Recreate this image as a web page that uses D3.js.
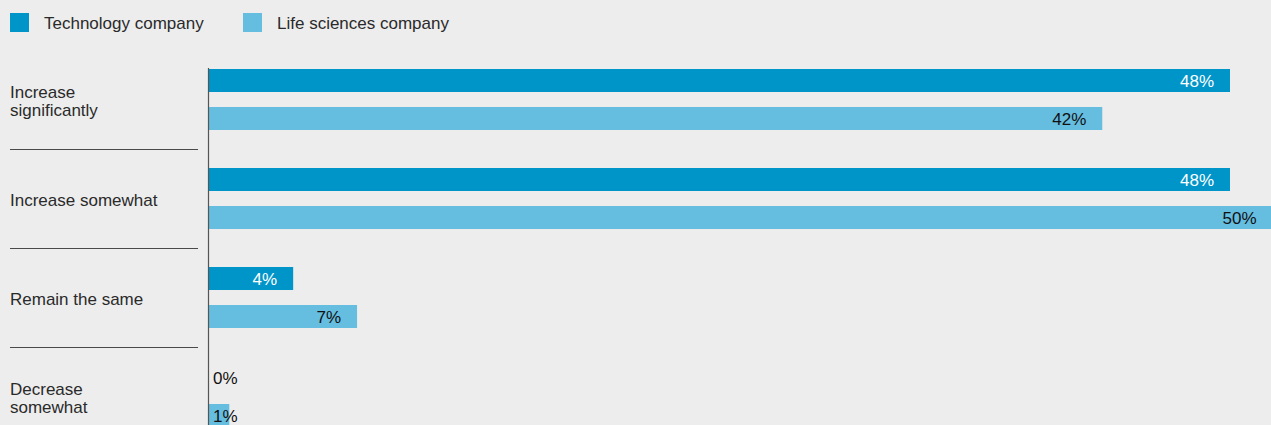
<!DOCTYPE html>
<html>
<head>
<meta charset="utf-8">
<script src="https://cdn.jsdelivr.net/npm/d3@7"></script>
<style>
  html, body { margin: 0; padding: 0; background: #ededed; }
  svg { display: block; font-family: "Liberation Sans", Arial, sans-serif; }
</style>
</head>
<body>
<svg id="chart" width="1271" height="425"></svg>
<script>
// Survey answers (categories) and the share for each respondent type
const categories = [
  ["Increase", "significantly"],
  ["Increase somewhat"],
  ["Remain the same"],
  ["Decrease", "somewhat"]
];
const seriesNames = ["Technology company", "Life sciences company"];
const techValues = [48, 48, 4, 0];
const lifeValues = [42, 50, 7, 1];
const seriesColors = ["#0095c9", "#65bde0"];
const labelColors = ["#ffffff", "#111111"];

const W = 1271, H = 425;
const svg = d3.select("#chart");

const catKeys = categories.map(c => c.join(" "));
const y = d3.scaleBand().domain(catKeys).range([50, 50 + 99 * catKeys.length]).padding(0);
const inner = d3.scaleBand().domain(seriesNames).range([19, 80]).paddingInner(15 / 38).paddingOuter(0);
const x = d3.scaleLinear().domain([0, 48]).range([208, 1230]);

const rows = [];
catKeys.forEach((k, i) => {
  rows.push({ cat: k, series: seriesNames[0], s: 0, value: techValues[i] });
  rows.push({ cat: k, series: seriesNames[1], s: 1, value: lifeValues[i] });
});

// Legend
const legend = svg.append("g");
const legendX = [10, 243];
seriesNames.forEach((name, i) => {
  legend.append("rect").attr("x", legendX[i]).attr("y", 13).attr("width", 19).attr("height", 19)
    .attr("fill", seriesColors[i]);
  legend.append("text").attr("x", legendX[i] + 34).attr("y", 29)
    .attr("font-size", 17).attr("fill", "#2a2a2a").text(name);
});

// Bars
const bars = svg.append("g");
bars.selectAll("rect").data(rows.filter(d => d.value > 0)).join("rect")
  .attr("x", x(0))
  .attr("y", d => y(d.cat) + inner(d.series))
  .attr("width", d => x(d.value) - x(0))
  .attr("height", inner.bandwidth())
  .attr("fill", d => seriesColors[d.s]);

// Value labels, right-aligned inside the bar end; pushed right of the axis when the bar is short
const labels = svg.append("g").attr("font-size", 17);
labels.selectAll("text").data(rows).join("text")
  .attr("y", d => y(d.cat) + inner(d.series) + inner.bandwidth() / 2 + 6)
  .attr("fill", d => d.value > 0 ? labelColors[d.s] : "#111111")
  .text(d => d.value + "%")
  .each(function (d) {
    const w = this.getComputedTextLength();
    const start = Math.max(x(d.value) - 16 - w, x(0) + 5);
    d3.select(this).attr("x", start);
  });

// Category labels
const catG = svg.append("g").attr("font-size", 17).attr("fill", "#2a2a2a");
categories.forEach((lines, i) => {
  const cy = y(catKeys[i]) + y.bandwidth() / 2;
  const t = catG.append("text").attr("x", 10);
  if (lines.length === 1) {
    t.attr("y", cy + 7).text(lines[0]);
  } else {
    lines.forEach((ln, j) => {
      t.append("tspan").attr("x", 10).attr("y", cy - 2 + j * 18).text(ln);
    });
  }
});

// Separators between categories
svg.append("g").selectAll("line").data(catKeys.slice(0, -1)).join("line")
  .attr("x1", 10).attr("x2", 198)
  .attr("y1", d => y(d) + y.bandwidth() + 0.5)
  .attr("y2", d => y(d) + y.bandwidth() + 0.5)
  .attr("stroke", "#4a4a4a").attr("stroke-width", 1);

// Baseline axis
svg.append("line")
  .attr("x1", x(0) + 0.5).attr("x2", x(0) + 0.5)
  .attr("y1", 68).attr("y2", H)
  .attr("stroke", "#555555").attr("stroke-width", 1.2);
</script>
</body>
</html>
